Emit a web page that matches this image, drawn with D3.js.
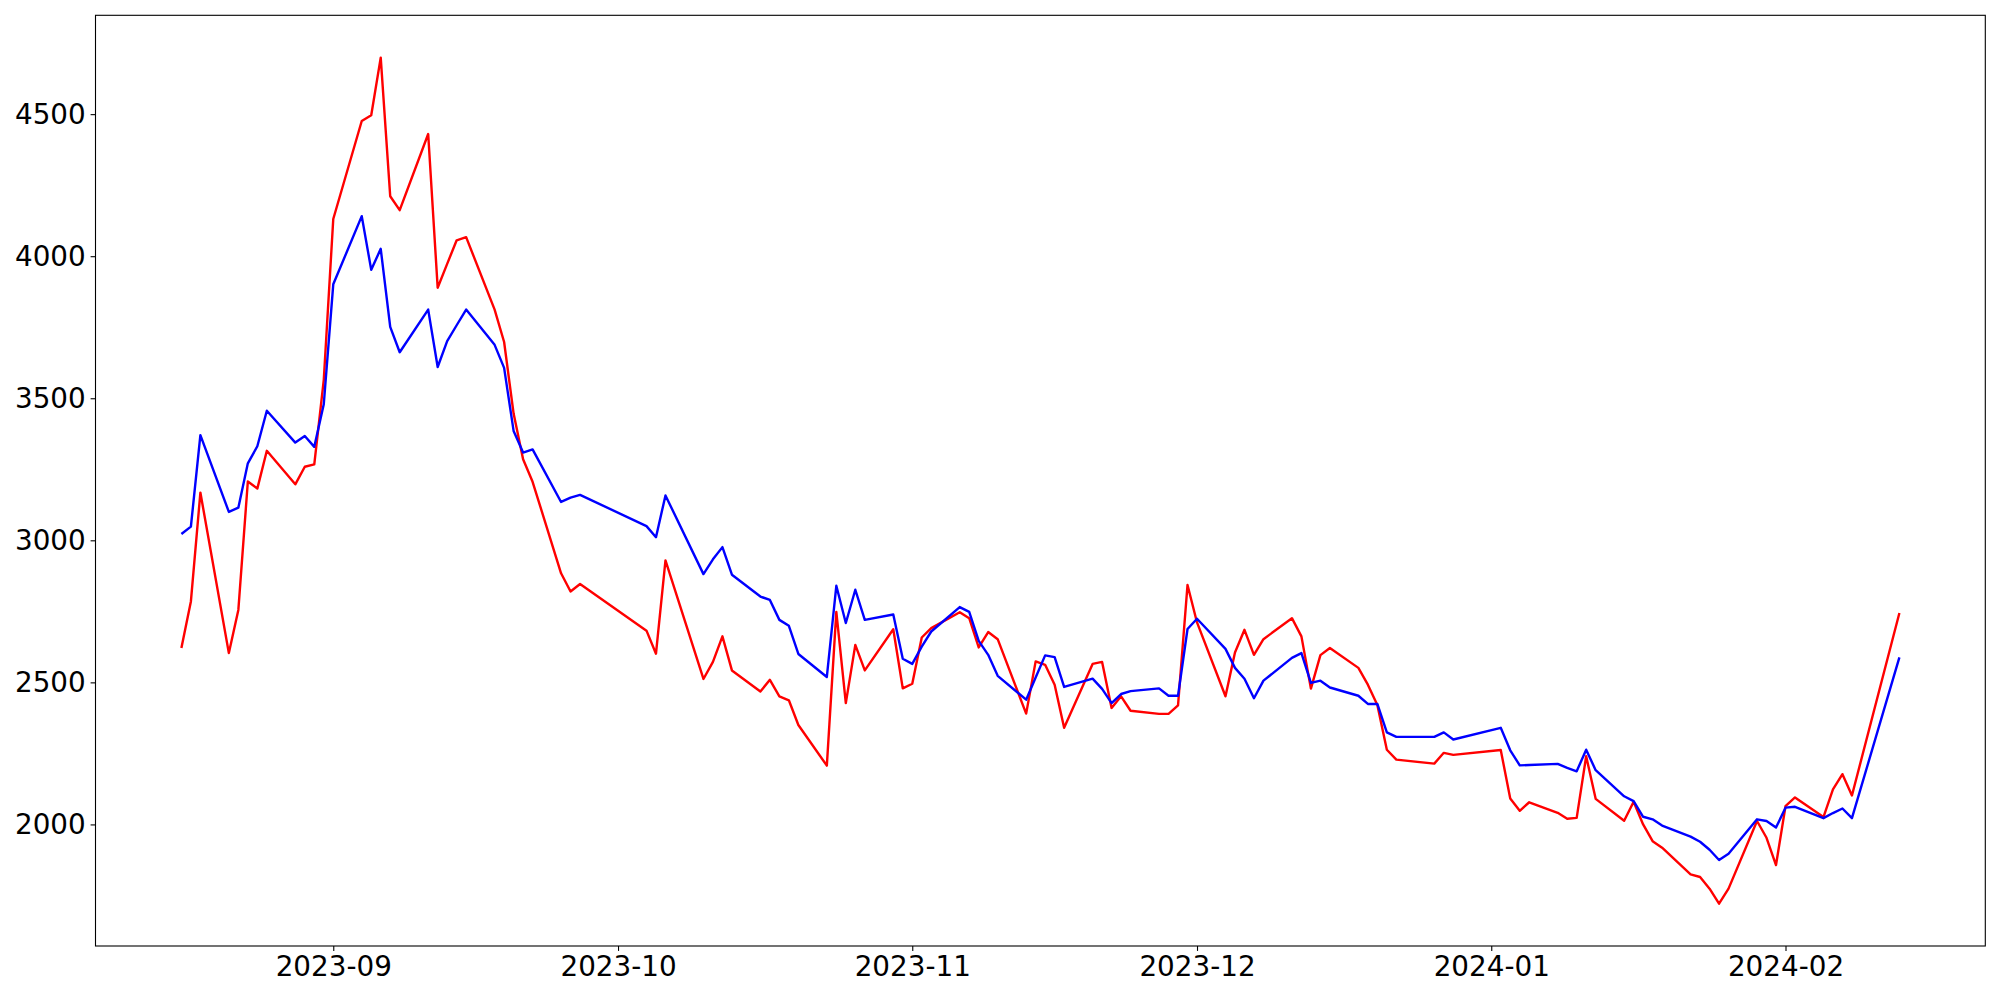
<!DOCTYPE html>
<html>
<head>
<meta charset="utf-8">
<script src="https://cdn.jsdelivr.net/npm/d3@7"></script>
<style>
  body { margin: 0; background: #fff; }
  svg { display: block; font-family: "DejaVu Sans", sans-serif; }
</style>
</head>
<body>
<svg id="chart" width="2000" height="1000"></svg>
<script>
// trading days (KRX calendar)
var dates = [
  '2023-08-16','2023-08-17','2023-08-18','2023-08-21','2023-08-22','2023-08-23','2023-08-24','2023-08-25',
  '2023-08-28','2023-08-29','2023-08-30','2023-08-31','2023-09-01','2023-09-04','2023-09-05','2023-09-06',
  '2023-09-07','2023-09-08','2023-09-11','2023-09-12','2023-09-13','2023-09-14','2023-09-15','2023-09-18',
  '2023-09-19','2023-09-20','2023-09-21','2023-09-22','2023-09-25','2023-09-26','2023-09-27','2023-10-04',
  '2023-10-05','2023-10-06','2023-10-10','2023-10-11','2023-10-12','2023-10-13','2023-10-16','2023-10-17',
  '2023-10-18','2023-10-19','2023-10-20','2023-10-23','2023-10-24','2023-10-25','2023-10-26','2023-10-27',
  '2023-10-30','2023-10-31','2023-11-01','2023-11-02','2023-11-03','2023-11-06','2023-11-07','2023-11-08',
  '2023-11-09','2023-11-10','2023-11-13','2023-11-14','2023-11-15','2023-11-16','2023-11-17','2023-11-20',
  '2023-11-21','2023-11-22','2023-11-23','2023-11-24','2023-11-27','2023-11-28','2023-11-29','2023-11-30',
  '2023-12-01','2023-12-04','2023-12-05','2023-12-06','2023-12-07','2023-12-08','2023-12-11','2023-12-12',
  '2023-12-13','2023-12-14','2023-12-15','2023-12-18','2023-12-19','2023-12-20','2023-12-21','2023-12-22',
  '2023-12-26','2023-12-27','2023-12-28','2024-01-02','2024-01-03','2024-01-04','2024-01-05','2024-01-08',
  '2024-01-09','2024-01-10','2024-01-11','2024-01-12','2024-01-15','2024-01-16','2024-01-17','2024-01-18',
  '2024-01-19','2024-01-22','2024-01-23','2024-01-24','2024-01-25','2024-01-26','2024-01-29','2024-01-30',
  '2024-01-31','2024-02-01','2024-02-02','2024-02-05','2024-02-06','2024-02-07','2024-02-08','2024-02-13'
];

var valuesRed = [
  2621, 2785, 3168, 2603, 2755, 3207, 3182, 3315,
  3197, 3259, 3267, 3565, 4131, 4476, 4496, 4699,
  4211, 4162, 4430, 3889, 3973, 4056, 4067, 3812,
  3698, 3446, 3285, 3206, 2884, 2820, 2846, 2682,
  2601, 2929, 2512, 2572, 2662, 2542, 2468, 2509,
  2451, 2437, 2350, 2207, 2748, 2427, 2632, 2542,
  2687, 2479, 2495, 2658, 2691, 2747, 2726, 2623,
  2677, 2652, 2390, 2574, 2562, 2492, 2340, 2565,
  2572, 2410, 2451, 2400, 2389, 2389, 2419, 2843,
  2711, 2451, 2605, 2685, 2597, 2652, 2726, 2662,
  2478, 2596, 2621, 2551, 2492, 2420, 2263, 2228,
  2214, 2252, 2245, 2262, 2091, 2048, 2078, 2041,
  2020, 2023, 2240, 2090, 2013, 2080, 2000, 1941,
  1918, 1824, 1815, 1774, 1721, 1774, 2012, 1953,
  1857, 2064, 2095, 2026, 2123, 2177, 2102, 2744
];

var valuesBlue = [
  3022, 3048, 3370, 3100, 3115, 3271, 3331, 3456,
  3344, 3367, 3329, 3479, 3901, 4141, 3952, 4026,
  3751, 3662, 3812, 3610, 3701, 3757, 3812, 3688,
  3607, 3385, 3309, 3320, 3135, 3150, 3160, 3050,
  3011, 3158, 2881, 2933, 2976, 2879, 2802, 2790,
  2720, 2699, 2600, 2519, 2840, 2709, 2826, 2720,
  2739, 2583, 2565, 2626, 2679, 2765, 2748, 2646,
  2597, 2523, 2439, 2517, 2595, 2589, 2484, 2513,
  2477, 2427, 2459, 2469, 2479, 2453, 2453, 2688,
  2724, 2618, 2551, 2513, 2444, 2506, 2586, 2603,
  2498, 2506, 2482, 2453, 2424, 2424, 2324, 2308,
  2308, 2324, 2299, 2340, 2261, 2208, 2209, 2213,
  2199, 2187, 2263, 2191, 2099, 2082, 2027, 2018,
  1996, 1957, 1939, 1911, 1875, 1897, 2018, 2012,
  1989, 2059, 2062, 2022, 2040, 2056, 2022, 2588
];

var yTicks = [2000, 2500, 3000, 3500, 4000, 4500];

var svg = d3.select('#chart');
var margin = { left: 95.5, right: 14.7, top: 15.3, bottom: 54 };
var width = 2000 - margin.left - margin.right;
var height = 1000 - margin.top - margin.bottom;

var parse = d3.utcParse('%Y-%m-%d');
var days = dates.map(parse);

// matplotlib style 5% padding on both axes
var t0 = days[0], t1 = days[days.length - 1];
var tPad = (t1 - t0) * 0.05;
var x = d3.scaleUtc()
  .domain([new Date(+t0 - tPad), new Date(+t1 + tPad)])
  .range([0, width]);

var all = valuesRed.concat(valuesBlue);
var vMin = d3.min(all), vMax = d3.max(all);
var vPad = (vMax - vMin) * 0.05;
var y = d3.scaleLinear()
  .domain([vMin - vPad, vMax + vPad])
  .range([height, 0]);

var g = svg.append('g')
  .attr('transform', 'translate(' + margin.left + ',' + margin.top + ')');

var line = d3.line()
  .x(function(d) { return x(d.date); })
  .y(function(d) { return y(d.value); });

function series(vals) {
  return days.map(function(dt, i) { return { date: dt, value: vals[i] }; });
}

g.append('path')
  .datum(series(valuesRed))
  .attr('fill', 'none')
  .attr('stroke', '#ff0000')
  .attr('stroke-width', 2.4)
  .attr('stroke-linejoin', 'round')
  .attr('d', line);

g.append('path')
  .datum(series(valuesBlue))
  .attr('fill', 'none')
  .attr('stroke', '#0000ff')
  .attr('stroke-width', 2.4)
  .attr('stroke-linejoin', 'round')
  .attr('d', line);

// axes
var xAxis = d3.axisBottom(x)
  .ticks(d3.utcMonth.every(1))
  .tickFormat(d3.utcFormat('%Y-%m'))
  .tickSize(4.9)
  .tickPadding(4.9);

var yAxis = d3.axisLeft(y)
  .tickValues(yTicks)
  .tickFormat(d3.format('d'))
  .tickSize(4.9)
  .tickPadding(4.9);

var gx = g.append('g')
  .attr('transform', 'translate(0,' + height + ')')
  .call(xAxis);
var gy = g.append('g').call(yAxis);

[gx, gy].forEach(function(ax) {
  ax.select('.domain').remove();
  ax.selectAll('line').attr('stroke', '#000').attr('stroke-width', 1.1);
  ax.selectAll('text')
    .attr('fill', '#000')
    .style('font-family', '"DejaVu Sans", sans-serif')
    .style('font-size', '27.8px');
});

// frame
g.append('rect')
  .attr('x', 0)
  .attr('y', 0)
  .attr('width', width)
  .attr('height', height)
  .attr('fill', 'none')
  .attr('stroke', '#000')
  .attr('stroke-width', 1.1);
</script>
</body>
</html>
